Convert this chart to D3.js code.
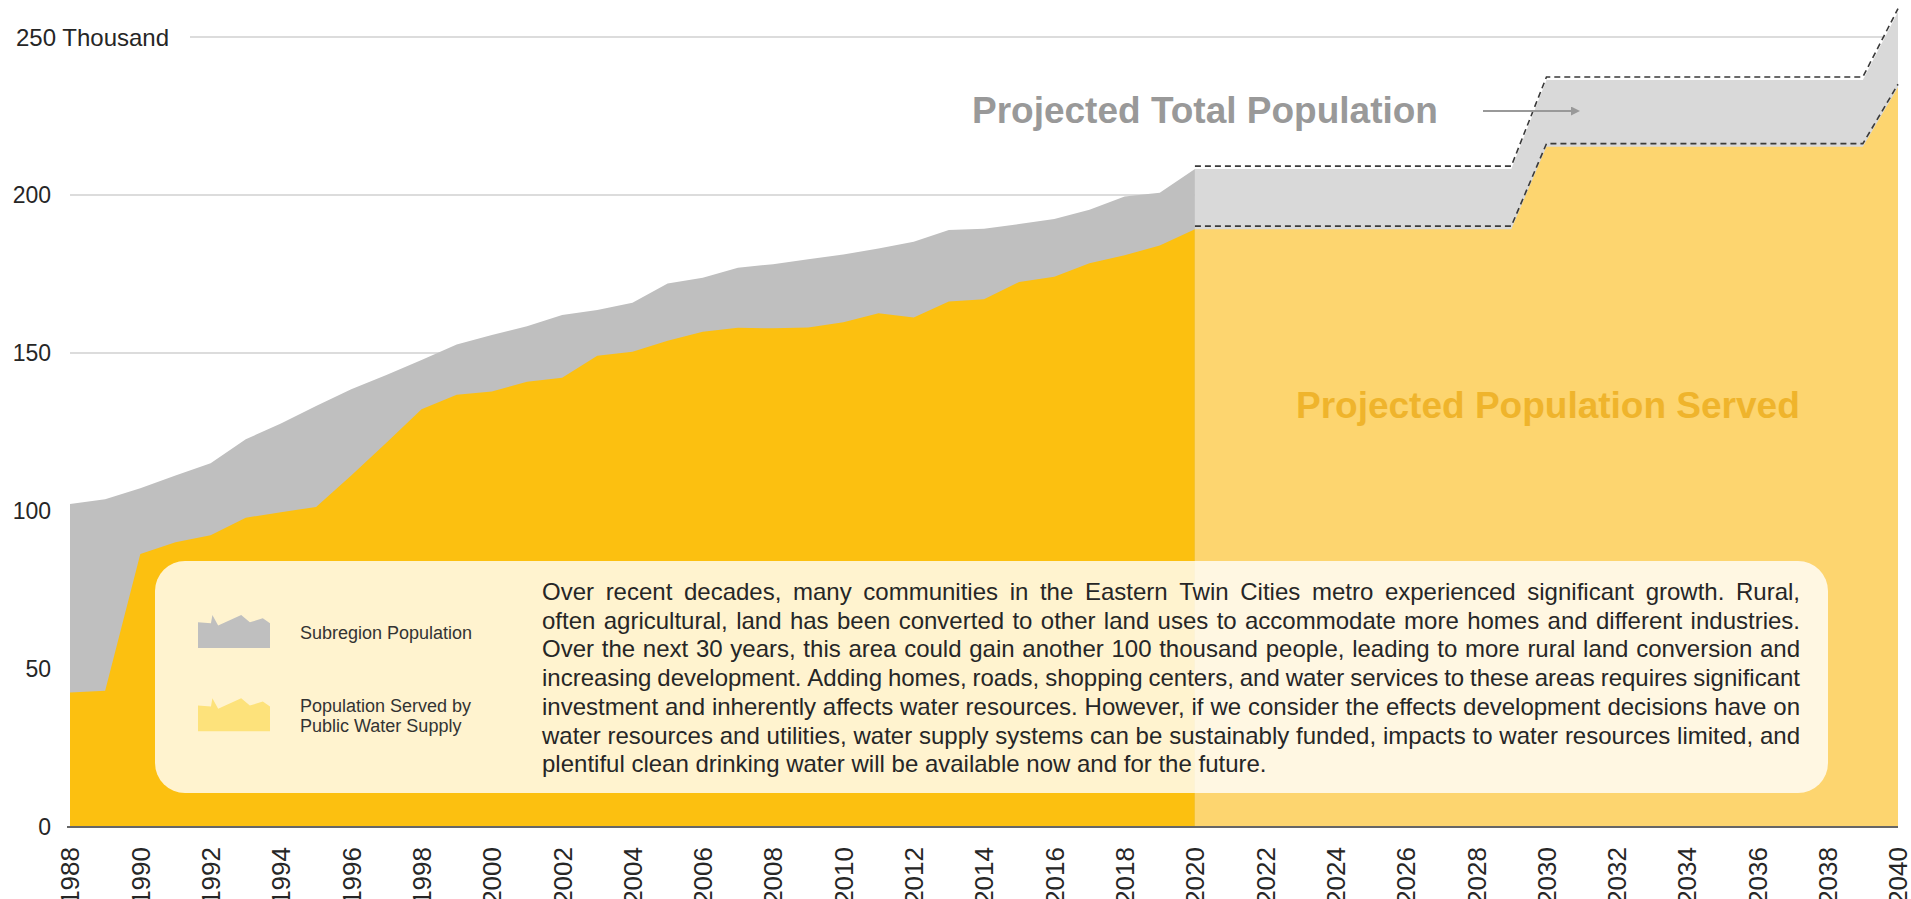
<!DOCTYPE html>
<html>
<head>
<meta charset="utf-8">
<script src="https://cdn.jsdelivr.net/npm/d3@7"></script>
<style>
  html, body { margin: 0; padding: 0; background: #ffffff; }
  svg { display: block; font-family: "Liberation Sans", Arial, sans-serif; }
</style>
</head>
<body>
<svg id="chart" width="1911" height="899"></svg>
<script>
// ---------------- DATA ----------------
const histYears = d3.range(1988, 2021);
const histTotal = [102.2,103.7,107.2,111.2,115.1,122.7,127.7,133.2,138.5,143.0,147.8,152.7,155.7,158.5,162.0,163.6,165.9,172.0,173.8,177.0,178.1,179.7,181.2,183.1,185.2,188.9,189.3,190.8,192.4,195.3,199.5,200.7,208.2];
const histServed = [42.6,43.1,86.4,90.1,92.3,97.9,99.6,101.3,111.2,121.6,132.2,136.8,137.8,140.9,142.2,149.1,150.4,153.9,156.7,158.0,157.8,158.1,159.7,162.6,161.2,166.3,167.0,172.5,174.1,178.4,180.9,184.0,189.2];
const projYears = [2020, 2029, 2030, 2039, 2040];
const projTotal = [208.2, 208.2, 236.4, 236.4, 258.0];
const projServed = [189.2, 189.2, 215.3, 215.3, 234.1];
const yTicks = [0, 50, 100, 150, 200, 250];
const yTickLabels = ["0", "50", "100", "150", "200", "250 Thousand"];
const xTicks = d3.range(1988, 2041, 2);
const legendItems = ["Subregion Population", ["Population Served by", "Public Water Supply"]];
const paragraphLines = [
  "Over recent decades, many communities in the Eastern Twin Cities metro experienced significant growth. Rural,",
  "often agricultural, land has been converted to other land uses to accommodate more homes and different industries.",
  "Over the next 30 years, this area could gain another 100 thousand people, leading to more rural land conversion and",
  "increasing development. Adding homes, roads, shopping centers, and water services to these areas requires significant",
  "investment and inherently affects water resources. However, if we consider the effects development decisions have on",
  "water resources and utilities, water supply systems can be sustainably funded, impacts to water resources limited, and",
  "plentiful clean drinking water will be available now and for the future."
];
const labelTotal = "Projected Total Population";
const labelServed = "Projected Population Served";
// legend icon silhouette (relative units, 0..1)
const iconShape = [[0,0.22],[0.18,0.25],[0.2,0],[0.28,0.32],[0.6,0],[0.72,0.22],[0.9,0.1],[1,0.25],[1,1],[0,1]];

// ---------------- SETUP ----------------
const svg = d3.select("#chart");
const x = d3.scaleLinear().domain([1988, 2040]).range([70, 1898]);
const y = d3.scaleLinear().domain([0, 250]).range([827, 37]);

const C = {
  grid: "#dcdcdc",
  histGray: "#bfbfbf",
  histYellow: "#fcc010",
  projGray: "#d9d9d9",
  projYellow: "#fdd56f",
  text: "#262626",
  title: "#999999",
  served: "#efb42c"
};

// gridlines
svg.append("g").selectAll("line")
  .data(yTicks.filter(d => d > 0))
  .join("line")
  .attr("x1", d => d === 250 ? 190 : x(1988))
  .attr("x2", x(2040))
  .attr("y1", d => y(d)).attr("y2", d => y(d))
  .attr("stroke", C.grid).attr("stroke-width", 2);

// y labels
svg.append("g").selectAll("text")
  .data(yTicks)
  .join("text")
  .attr("x", (d) => d === 250 ? 16 : 51)
  .attr("y", d => y(d))
  .attr("dy", "0.36em")
  .attr("text-anchor", d => d === 250 ? "start" : "end")
  .attr("font-size", d => d === 250 ? 24 : 23)
  .attr("fill", C.text)
  .text((d, i) => yTickLabels[i]);

// areas
const hist = histYears.map((yr, i) => ({ yr, t: histTotal[i], s: histServed[i] }));
const proj = projYears.map((yr, i) => ({ yr, t: projTotal[i], s: projServed[i] }));
const areaT = d3.area().x(d => x(d.yr)).y0(y(0)).y1(d => y(d.t));
const areaS = d3.area().x(d => x(d.yr)).y0(y(0)).y1(d => y(d.s));

svg.append("path").datum(hist).attr("d", areaT).attr("fill", C.histGray);
svg.append("path").datum(hist).attr("d", areaS).attr("fill", C.histYellow);
svg.append("path").datum(proj).attr("d", areaT).attr("fill", C.projGray);
svg.append("path").datum(proj).attr("d", areaS).attr("fill", C.projYellow);

// dashed outlines of projections
const lineT = d3.line().x(d => x(d.yr)).y(d => y(d.t) - 3);
const lineS = d3.line().x(d => x(d.yr)).y(d => y(d.s) - 3);
[lineT, lineS].forEach(l => {
  svg.append("path").datum(proj).attr("d", l)
    .attr("fill", "none").attr("stroke", "#3a3a3a")
    .attr("stroke-width", 1.6).attr("stroke-dasharray", "6,4");
});

// x axis baseline
svg.append("line")
  .attr("x1", 67).attr("x2", x(2040))
  .attr("y1", y(0)).attr("y2", y(0))
  .attr("stroke", "#666666").attr("stroke-width", 2);

// x labels rotated
svg.append("g").selectAll("text")
  .data(xTicks)
  .join("text")
  .attr("transform", d => `translate(${x(d)},${847}) rotate(-90)`)
  .attr("dy", "0.36em")
  .attr("text-anchor", "end")
  .attr("font-size", 26)
  .attr("fill", C.text)
  .text(d => d);

// projection labels
svg.append("text")
  .attr("x", 972).attr("y", 123)
  .attr("font-size", 37).attr("font-weight", "bold")
  .attr("fill", C.title)
  .text(labelTotal);

svg.append("text")
  .attr("x", 1296).attr("y", 418)
  .attr("font-size", 37).attr("font-weight", "bold")
  .attr("fill", C.served)
  .text(labelServed);

// arrow
svg.append("defs").append("marker")
  .attr("id", "arrow").attr("viewBox", "0 0 10 10")
  .attr("refX", 0).attr("refY", 5)
  .attr("markerWidth", 9).attr("markerHeight", 9)
  .attr("markerUnits", "userSpaceOnUse")
  .attr("orient", "auto")
  .append("path").attr("d", "M0,0 L10,5 L0,10 Z").attr("fill", "#999999");
svg.append("line")
  .attr("x1", 1483).attr("x2", 1571)
  .attr("y1", 111).attr("y2", 111)
  .attr("stroke", "#999999").attr("stroke-width", 2)
  .attr("marker-end", "url(#arrow)");

// text box
const box = { x: 155, y: 561, w: 1673, h: 232 };
svg.append("rect")
  .attr("x", box.x).attr("y", box.y)
  .attr("width", box.w).attr("height", box.h)
  .attr("rx", 30).attr("ry", 30)
  .attr("fill", "#ffffff").attr("fill-opacity", 0.8);

// legend icons
const iconLine = d3.line();
const icons = [
  { x: 198, y: 615, w: 72, h: 33, fill: C.histGray },
  { x: 198, y: 698.3, w: 72, h: 33, fill: "#fde27b" }
];
icons.forEach(ic => {
  svg.append("path")
    .attr("d", iconLine(iconShape.map(p => [ic.x + p[0] * ic.w, ic.y + p[1] * ic.h])) + "Z")
    .attr("fill", ic.fill);
});

svg.append("text").attr("x", 300).attr("y", 639)
  .attr("font-size", 18).attr("fill", "#333333").text(legendItems[0]);
legendItems[1].forEach((t, i) => {
  svg.append("text").attr("x", 300).attr("y", 712 + i * 20)
    .attr("font-size", 18).attr("fill", "#333333").text(t);
});

// justified paragraph
const pX0 = 542, pX1 = 1800, pY0 = 600, pLH = 28.7, pFS = 24;
const measurer = svg.append("text").attr("font-size", pFS).attr("visibility", "hidden");
function w(str) { measurer.text(str); return measurer.node().getComputedTextLength(); }
const spaceW = w("a a") - w("aa");
paragraphLines.forEach((line, li) => {
  const words = line.split(" ");
  const widths = words.map(w);
  const sum = d3.sum(widths);
  const last = li === paragraphLines.length - 1;
  const gap = last ? spaceW : (pX1 - pX0 - sum) / (words.length - 1);
  let cx = pX0;
  const t = svg.append("text").attr("y", pY0 + li * pLH)
    .attr("font-size", pFS).attr("fill", C.text);
  words.forEach((wd, i) => {
    t.append("tspan").attr("x", cx).text(wd);
    cx += widths[i] + gap;
  });
});
measurer.remove();
</script>
</body>
</html>
